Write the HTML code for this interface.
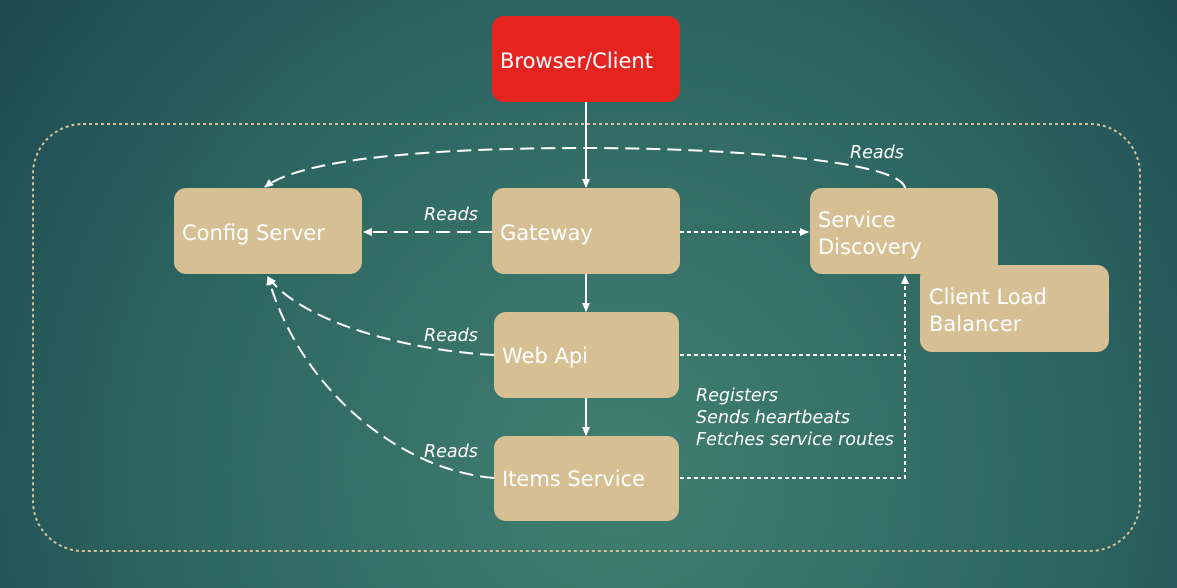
<!DOCTYPE html>
<html><head><meta charset="utf-8"><style>
html,body{margin:0;padding:0;width:1177px;height:588px;overflow:hidden;}
svg{display:block}
text{font-family:"DejaVu Sans","Liberation Sans",sans-serif;fill:#fff}
.b{font-size:21px}
.i{font-size:17.5px;font-style:italic}
</style></head><body>
<svg width="1177" height="588" viewBox="0 0 1177 588" xmlns="http://www.w3.org/2000/svg">
<defs>
<radialGradient id="bg" cx="620" cy="470" r="800" gradientUnits="userSpaceOnUse">
<stop offset="0" stop-color="#417f71"/>
<stop offset="0.55" stop-color="#2d6661"/>
<stop offset="1" stop-color="#1c4751"/>
</radialGradient>
<marker id="a" markerWidth="10" markerHeight="10" refX="8" refY="5" orient="auto" markerUnits="userSpaceOnUse">
<path d="M0,1 L9,5 L0,9 Z" fill="#fff"/>
</marker>
</defs>
<rect width="1177" height="588" fill="url(#bg)"/>
<rect x="33" y="124" width="1107" height="427" rx="50" fill="none" stroke="#d7bf94" stroke-width="2" stroke-dasharray="3 3"/>

<g fill="none" stroke="#fff" stroke-width="2">
<line x1="586" y1="102" x2="586" y2="187" marker-end="url(#a)"/>
<line x1="586" y1="274" x2="586" y2="311" marker-end="url(#a)"/>
<line x1="586" y1="398" x2="586" y2="435" marker-end="url(#a)"/>
<g stroke-dasharray="14 7">
<line x1="492" y1="232" x2="364" y2="232" marker-end="url(#a)"/>
<path d="M905,188 C900,160 720,148 586,148 C420,148 300,160 265,187" marker-end="url(#a)"/>
<path d="M494,355 C400,350 300,320 268,277" marker-end="url(#a)"/>
<path d="M494,478 C400,470 300,390 268,277" marker-end="url(#a)"/>
</g>
<g stroke-dasharray="4 3">
<line x1="680" y1="232" x2="808" y2="232" marker-end="url(#a)"/>
<line x1="680" y1="355" x2="905" y2="355"/>
<path d="M680,478 L905,478 L905,276" marker-end="url(#a)"/>
</g>
</g>

<g fill="#d7bf94">
<rect x="174" y="188" width="188" height="86" rx="12"/>
<rect x="492" y="188" width="188" height="86" rx="12"/>
<rect x="810" y="188" width="188" height="86" rx="12"/>
<rect x="920" y="265" width="189" height="87" rx="12"/>
<rect x="494" y="312" width="185" height="86" rx="12"/>
<rect x="494" y="436" width="185" height="85" rx="12"/>
</g>
<rect x="492" y="16" width="188" height="86" rx="12" fill="#e52420"/>

<text class="b" x="500" y="68">Browser/Client</text>
<text class="b" x="182" y="240">Config Server</text>
<text class="b" x="500" y="240">Gateway</text>
<text class="b" x="818" y="227">Service</text>
<text class="b" x="818" y="254">Discovery</text>
<text class="b" x="929" y="304">Client Load</text>
<text class="b" x="929" y="331">Balancer</text>
<text class="b" x="502" y="363">Web Api</text>
<text class="b" x="502" y="486">Items Service</text>

<text class="i" x="424" y="220">Reads</text>
<text class="i" x="424" y="341">Reads</text>
<text class="i" x="424" y="457">Reads</text>
<text class="i" x="850" y="158">Reads</text>
<text class="i" x="696" y="401">Registers</text>
<text class="i" x="696" y="423">Sends heartbeats</text>
<text class="i" x="696" y="445">Fetches service routes</text>
</svg>
</body></html>
